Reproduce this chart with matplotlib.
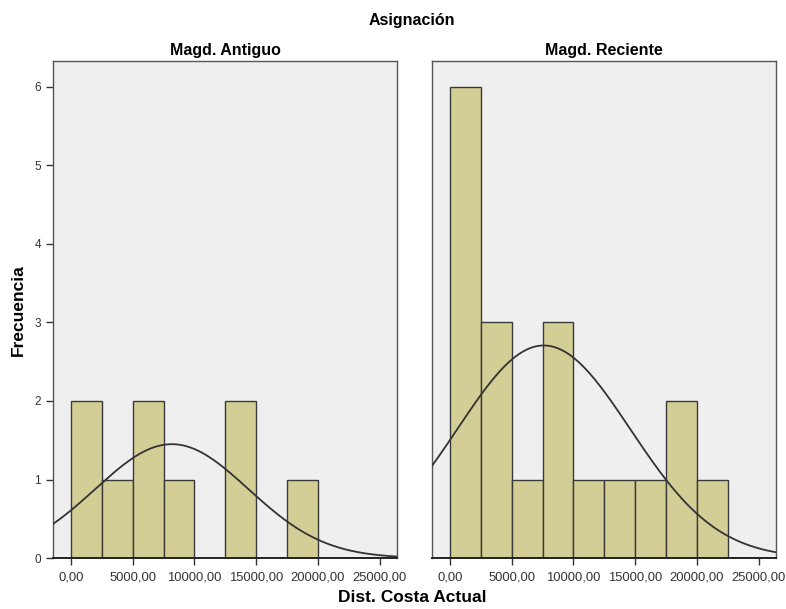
import numpy as np
import matplotlib.pyplot as plt
from matplotlib.ticker import FuncFormatter

plt.rcParams['font.family'] = ['Liberation Sans', 'DejaVu Sans']

# bins de 2500 (Dist. Costa Actual)
bin_edges = [0, 2500, 5000, 7500, 10000, 12500, 15000, 17500, 20000, 22500]
antiguo_counts = [2, 1, 2, 1, 0, 2, 0, 1, 0]
reciente_counts = [6, 3, 1, 3, 1, 1, 1, 2, 1]
# curva normal ajustada: media, desv. tipica, N
antiguo_fit = (8170, 6190, 9)
reciente_fit = (7600, 7000, 19)
panels = ['Magd. Antiguo', 'Magd. Reciente']

fig = plt.figure(figsize=(7.86, 6.09), dpi=100)
ax1 = fig.add_axes([0.0674, 0.0837, 0.4377, 0.8161])
ax2 = fig.add_axes([0.5496, 0.0837, 0.4377, 0.8161])

fmt = FuncFormatter(lambda v, p: ('%.2f' % v).replace('.', ','))
edges = np.array(bin_edges)
xs = np.linspace(-1500, 26500, 400)
bw = edges[1] - edges[0]

for ax, counts, fit, title in [(ax1, antiguo_counts, antiguo_fit, panels[0]),
                                (ax2, reciente_counts, reciente_fit, panels[1])]:
    ax.set_facecolor('#EFEFEF')
    ax.bar(edges[:-1], counts, width=bw, align='edge', color='#D3CE96',
           edgecolor='#3a3a3a', linewidth=1.0, zorder=2)
    mu, sd, n = fit
    ys = n * bw / (sd * np.sqrt(2 * np.pi)) * np.exp(-(xs - mu) ** 2 / (2 * sd ** 2))
    ax.plot(xs, ys, color='#333333', linewidth=1.3, zorder=3)
    ax.set_xlim(-1450, 26400)
    ax.set_ylim(0, 6.33)
    ax.set_xticks([0, 5000, 10000, 15000, 20000, 25000])
    ax.xaxis.set_major_formatter(fmt)
    ax.set_yticks(range(7))
    ax.tick_params(axis='both', direction='out', length=5, width=1,
                   color='#333333', labelcolor='#333333', labelsize=8.5)
    ax.tick_params(axis='x', labelsize=9.4, pad=5)
    for s in ax.spines.values():
        s.set_color('#555555')
        s.set_linewidth(1.0)
    ax.spines['bottom'].set_color('#222222')
    ax.spines['bottom'].set_linewidth(1.4)
    ax.set_title(title, fontsize=11.5, fontweight='bold', pad=4)

ax2.tick_params(axis='y', left=False, labelleft=False)

fig.text(0.524, 0.967, 'Asignación', ha='center', va='center', fontsize=11.5, fontweight='bold')
fig.text(0.524, 0.019, 'Dist. Costa Actual', ha='center', va='center', fontsize=12.5, fontweight='bold')
fig.text(0.023, 0.49, 'Frecuencia', ha='center', va='center', rotation=90, fontsize=12.5, fontweight='bold')

fig.savefig('out.png', dpi=100, facecolor='white')
